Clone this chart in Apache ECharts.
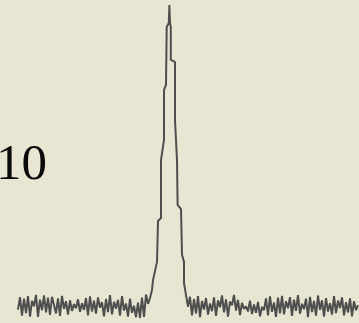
<!DOCTYPE html>
<html>
<head>
<meta charset="utf-8">
<script src="https://cdn.jsdelivr.net/npm/echarts@6/dist/echarts.min.js"></script>
<style>
  html, body { margin: 0; padding: 0; background: #e8e6d2; }
  #chart { width: 359px; height: 323px; }
</style>
</head>
<body>
<div id="chart"></div>
<script>
// baseline noise left of the line (channels 0..66)
const noiseLeft = [
  4.2, 8.1, 2.3, 7.6, 3.1, 8.4, 2.0, 6.9, 5.2, 8.8,
  1.9, 7.3, 4.0, 8.6, 3.3, 7.9, 2.5, 8.2, 5.6, 3.0,
  7.7, 2.2, 8.5, 4.4, 6.8, 2.6, 7.1, 3.8, 5.9, 4.6,
  7.4, 3.5, 6.2, 4.1, 7.8, 2.4, 8.3, 3.6, 7.0, 2.9,
  8.0, 4.8, 6.5, 2.1, 7.5, 3.4, 8.7, 2.7, 6.6, 4.5,
  7.2, 2.3, 8.4, 3.9, 6.1, 2.0, 7.6, 3.2, 5.4, 1.8,
  6.4, 1.6, 7.9, 1.9, 8.9, 6.0, 7.8
];
// emission line, sampled finer
const peakX = [67, 67.5, 69.5, 70, 71.5, 71.5, 73, 73, 74, 74.35, 75.4, 75.7, 76, 76.4, 76.4, 78.5, 78.5, 79.5, 79.8, 81.5, 82, 83, 83];
const peakY = [10.3, 13.4, 19.1, 31.9, 32.8, 50.9, 57.2, 72.8, 74.4, 92.5, 93.8, 99.4, 93.8, 92.5, 82.2, 81.6, 63.4, 50.9, 36.9, 35.6, 21.3, 19.1, 12.5];
// baseline noise right of the line (channels 84..170)
const noiseRight = [
  8.7, 5.1, 8.2, 2.4, 7.5, 3.0, 8.4, 1.8, 6.9, 4.2,
  7.8, 2.6, 6.1, 3.7, 8.0, 2.2, 7.1, 4.9, 8.6, 3.3,
  7.4, 2.0, 6.7, 5.5, 8.8, 3.9, 7.2, 2.5, 6.3, 4.4,
  5.2, 3.6, 7.0, 2.8, 5.8, 3.2, 6.6, 2.1, 5.0, 4.0,
  7.7, 2.4, 8.3, 3.5, 6.4, 1.9, 7.9, 3.0, 8.5, 2.7,
  6.8, 4.6, 8.1, 2.2, 7.3, 3.8, 8.7, 2.9, 6.0, 4.3,
  7.6, 1.8, 8.2, 3.4, 6.9, 2.3, 8.6, 4.1, 7.1, 2.0,
  7.8, 3.6, 6.2, 2.6, 8.4, 3.1, 7.0, 4.7, 8.0, 2.4,
  6.5, 3.3, 7.7, 2.1, 6.8, 4.0, 5.6
];
const label = '10';

const data = [];
noiseLeft.forEach((v, i) => data.push([i, v]));
peakX.forEach((x, i) => data.push([x, peakY[i]]));
noiseRight.forEach((v, i) => data.push([84 + i, v]));

const chart = echarts.init(document.getElementById('chart'));
chart.setOption({
  backgroundColor: '#e8e6d2',
  animation: false,
  grid: { left: 18, right: 0, top: 3, bottom: 0 },
  xAxis: { type: 'value', min: 0, max: 170.5, show: false },
  yAxis: { type: 'value', min: 0, max: 100, show: false },
  graphic: [{
    type: 'text',
    left: -4,
    top: 140,
    style: {
      text: label,
      fill: '#0a0a0a',
      font: '51px "Liberation Serif", "DejaVu Serif", serif'
    }
  }],
  series: [{
    type: 'line',
    data: data,
    symbol: 'none',
    lineStyle: { color: '#4e4e4e', width: 2 }
  }]
});
</script>
</body>
</html>
